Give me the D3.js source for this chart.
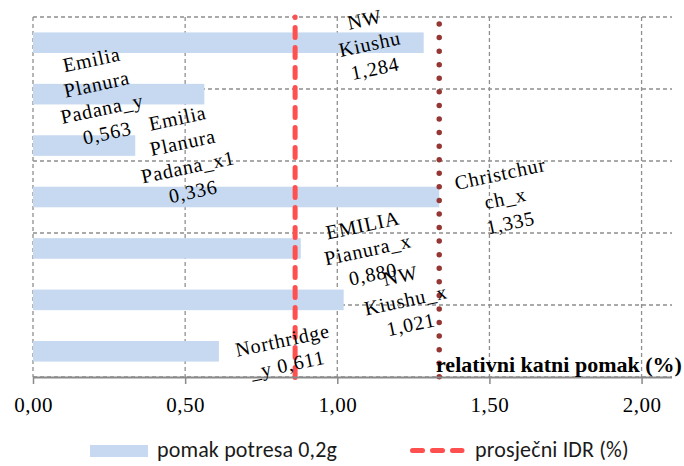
<!DOCTYPE html>
<html>
<head>
<meta charset="utf-8">
<script src="https://cdn.jsdelivr.net/npm/d3@7"></script>
<style>
  html, body { margin: 0; padding: 0; background: #ffffff; }
  svg { display: block; }
</style>
</head>
<body>
<svg id="chart" width="684" height="466"></svg>
<script>
// Records and their inter-storey drift values
const categories = [
  "NW Kiushu",
  "Emilia Planura Padana_y",
  "Emilia Planura Padana_x1",
  "Christchurch_x",
  "EMILIA Pianura_x",
  "NW Kiushu_x",
  "Northridge_y"
];
const pomakValues = [1.284, 0.563, 0.336, 1.335, 0.880, 1.021, 0.611];

// Wrapped label lines for each record (value is appended below, or inline for the last)
const labelLines = [
  ["NW", "Kiushu"],
  ["Emilia", "Planura", "Padana_y"],
  ["Emilia", "Planura", "Padana_x1"],
  ["Christchur", "ch_x"],
  ["EMILIA", "Pianura_x"],
  ["NW", "Kiushu_x"],
  ["Northridge", "_y"]
];
const valueInline = [false, false, false, false, false, false, true];

const xTicks = [0, 0.5, 1.0, 1.5, 2.0];
const xDomain = [0, 2.1];
const gridDomain = [0, 5];

const seriesNames = ["pomak potresa 0,2g", "prosječni IDR (%)"];
const axisTitle = "relativni katni pomak (%)";

// Average and maximum drift, drawn as vertical reference lines
const meanIDR = d3.mean(pomakValues);
const maxIDR = d3.max(pomakValues);

// ---- layout ----
const plot = { left: 33, right: 672, top: 17, bottom: 377 };
// label block offset from the bar end / bar centre
const labelShift = [[-54, 1], [-105, 2], [50, 9], [66, 1], [67, 1], [62, 0], [66, 1]];
const lineGap = 25;
const labelAngle = -12;

const svg = d3.select("#chart");
const fmt = (f) => (v) => d3.format(f)(v).replace(".", ",");

const x = d3.scaleLinear().domain(xDomain).range([plot.left, plot.right]);
const y = d3.scaleBand().domain(categories).range([plot.top, plot.bottom])
  .paddingInner(0.6).paddingOuter(0.3);
const yGrid = d3.scaleLinear().domain(gridDomain).range([plot.bottom, plot.top]);

const gridColor = "#8f8f8f";
const serif = "'Liberation Serif', 'Times New Roman', serif";

// horizontal grid
svg.append("g").selectAll("line").data(yGrid.ticks(5)).join("line")
  .attr("x1", plot.left).attr("x2", plot.right)
  .attr("y1", d => yGrid(d)).attr("y2", d => yGrid(d))
  .attr("stroke", gridColor).attr("stroke-width", 1.3)
  .attr("stroke-dasharray", "4,3");

// vertical grid
svg.append("g").selectAll("line").data(xTicks).join("line")
  .attr("x1", d => x(d)).attr("x2", d => x(d))
  .attr("y1", plot.top).attr("y2", plot.bottom)
  .attr("stroke", gridColor).attr("stroke-width", 1.3)
  .attr("stroke-dasharray", "4,3");

// bars
svg.append("g").selectAll("rect").data(pomakValues).join("rect")
  .attr("x", x(0))
  .attr("y", (d, i) => y(categories[i]))
  .attr("width", d => x(d) - x(0))
  .attr("height", y.bandwidth())
  .attr("fill", "#c6d9f1");

// average IDR line (dashed red)
svg.append("line")
  .attr("x1", x(meanIDR)).attr("x2", x(meanIDR))
  .attr("y1", plot.top).attr("y2", plot.bottom + 1)
  .attr("stroke", "#ff4f4f").attr("stroke-width", 5)
  .attr("stroke-linecap", "round")
  .attr("stroke-dasharray", "10,10")
  .attr("stroke-dashoffset", 9.5);

// maximum IDR line (round dots)
svg.append("line")
  .attr("x1", x(maxIDR)).attr("x2", x(maxIDR))
  .attr("y1", plot.top + 7).attr("y2", plot.bottom)
  .attr("stroke", "#963634").attr("stroke-width", 5.5)
  .attr("stroke-linecap", "round")
  .attr("stroke-dasharray", "0,13.57");

// x axis
const axis = d3.axisBottom(x).tickValues(xTicks).tickFormat(fmt(".2f"))
  .tickSize(7).tickPadding(13);
const gAxis = svg.append("g").attr("transform", `translate(0,${plot.bottom})`).call(axis);
gAxis.select(".domain").attr("stroke", "#8a8a8a").attr("stroke-width", 1.8)
  .attr("d", `M${plot.left},0.5H${plot.right}`);
gAxis.selectAll(".tick line").attr("stroke", "#8a8a8a").attr("stroke-width", 1.5);
gAxis.selectAll(".tick text")
  .attr("font-family", serif)
  .attr("font-size", 21).attr("letter-spacing", 0.5).attr("fill", "#000");

// data labels
const labels = svg.append("g")
  .attr("font-family", serif)
  .attr("font-size", 20).attr("fill", "#000")
  .attr("letter-spacing", 0.8)
  .attr("text-anchor", "middle");

pomakValues.forEach((v, i) => {
  const lines = labelLines[i].slice();
  const valueText = fmt(".3f")(v);
  if (valueInline[i]) lines[lines.length - 1] += " " + valueText;
  else lines.push(valueText);
  const cx = x(v) + labelShift[i][0];
  const cy = y(categories[i]) + y.bandwidth() / 2 + labelShift[i][1];
  const g = labels.append("g").attr("transform", `translate(${cx},${cy}) rotate(${labelAngle})`);
  lines.forEach((t, k) => {
    g.append("text")
      .attr("y", (k - (lines.length - 1) / 2) * lineGap)
      .attr("dy", "0.35em")
      .text(t);
  });
});

// axis title
svg.append("text")
  .attr("x", 436).attr("y", 372)
  .attr("font-family", serif)
  .attr("font-size", 22).attr("font-weight", "bold").attr("fill", "#000")
  .text(axisTitle);

// legend
const legend = svg.append("g")
  .attr("font-family", "Carlito, Calibri, Lato, sans-serif")
  .attr("font-size", 22).attr("letter-spacing", 0.15).attr("fill", "#1a1a1a");
legend.append("rect").attr("x", 90).attr("y", 445).attr("width", 58).attr("height", 12)
  .attr("fill", "#c6d9f1");
legend.append("text").attr("x", 157).attr("y", 457).text(seriesNames[0]);
legend.append("line").attr("x1", 412.5).attr("x2", 462).attr("y1", 450.5).attr("y2", 450.5)
  .attr("stroke", "#ff4f4f").attr("stroke-width", 5)
  .attr("stroke-linecap", "round").attr("stroke-dasharray", "10,10");
legend.append("text").attr("x", 475).attr("y", 457).text(seriesNames[1]);
</script>
</body>
</html>
